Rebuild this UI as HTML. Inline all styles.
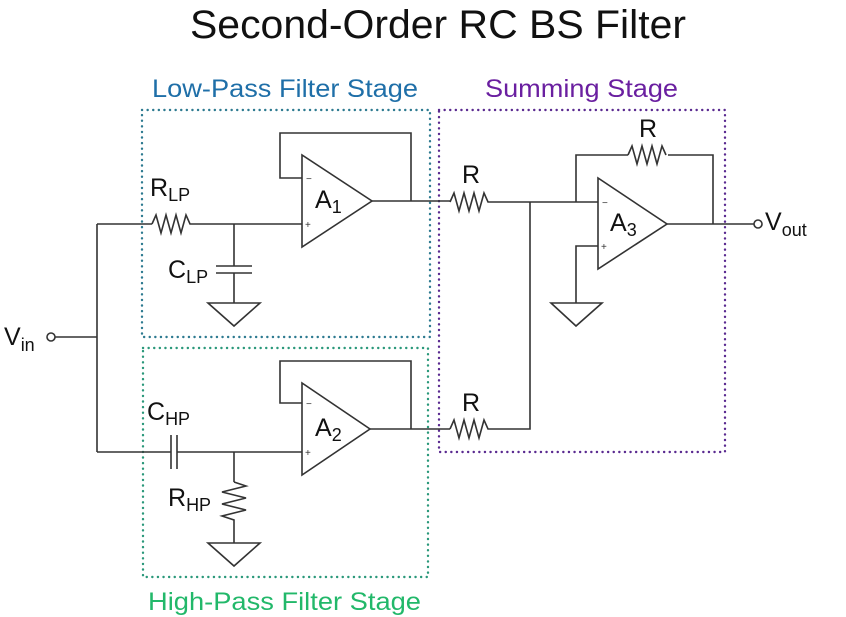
<!DOCTYPE html>
<html><head><style>body{margin:0;background:#fff}svg{display:block}</style></head><body>
<svg width="846" height="617" viewBox="0 0 846 617" xmlns="http://www.w3.org/2000/svg" font-family="Liberation Sans, Arial, sans-serif">
<text x="438" y="38" font-size="40" text-anchor="middle" textLength="496" lengthAdjust="spacingAndGlyphs" fill="#111">Second-Order RC BS Filter</text>
<text x="152" y="97" font-size="25" textLength="266" lengthAdjust="spacingAndGlyphs" fill="#1f6fa8">Low-Pass Filter Stage</text>
<text x="485" y="97" font-size="25" textLength="193" lengthAdjust="spacingAndGlyphs" fill="#6a1fa0">Summing Stage</text>
<text x="148" y="610" font-size="25" textLength="273" lengthAdjust="spacingAndGlyphs" fill="#22b86a">High-Pass Filter Stage</text>
<g fill="none" stroke-width="2.4" stroke-dasharray="0.1 5.5" stroke-linecap="round">
<rect x="142" y="110" width="288" height="227" stroke="#2d7a90"/>
<rect x="439" y="110" width="286" height="342" stroke="#5a2a90"/>
<rect x="143" y="348" width="285" height="229" stroke="#2a987a"/>
</g>
<g fill="none" stroke="#333" stroke-width="1.6">
<circle cx="51" cy="337" r="4"/>
<path d="M55 337H97M97 224V452M97 224H152M197 224H302"/>
<path d="M152 224l4-9 5 18 5-18 5 18 5-18 5 18 5-18 4 9H197"/>
<path d="M234 224V266M216 266H252M216 273H252M234 273V303M208 303H260L234 326Z"/>
<path d="M302 155V247L372 201Z"/>
<path d="M302 178H280V133H411V201M372 201H450"/>
<path d="M450 202l4-9 5 18 5-18 5 18 5-18 5 18 5-18 4 9H598"/>
<path d="M97 452H171M171 435V469M177 435V469M177 452H302M234 452V482"/>
<path d="M234 482l12 4-24 6 24 6-24 6 24 6-24 6 12 4V543M208 543H260L234 566Z"/>
<path d="M302 383V475L370 429Z"/>
<path d="M302 403H280V361H411V429M370 429H450"/>
<path d="M450 429l4-9 5 18 5-18 5 18 5-18 5 18 5-18 4 9H530V202"/>
<path d="M598 178V269L667 224Z"/>
<path d="M576 202V155H628M668 155H713V224M667 224H754"/>
<path d="M628 155l4-9 5 18 5-18 5 18 5-18 5 18 5-18 4 9"/>
<path d="M598 246H576V303M551 303H602L576 326Z"/>
<circle cx="758" cy="224" r="4"/>
</g>
<g fill="#333" font-size="10"><text x="306" y="182">−</text><text x="305" y="228">+</text>
<text x="306" y="407">−</text><text x="305" y="456">+</text>
<text x="602" y="206">−</text><text x="601" y="250">+</text></g>
<g fill="#111" font-size="25">
<text x="315" y="208">A<tspan font-size="18" dy="5">1</tspan></text>
<text x="315" y="436">A<tspan font-size="18" dy="5">2</tspan></text>
<text x="610" y="231">A<tspan font-size="18" dy="5">3</tspan></text>
<text x="150" y="196">R<tspan font-size="18" dy="5">LP</tspan></text>
<text x="168" y="278">C<tspan font-size="18" dy="5">LP</tspan></text>
<text x="147" y="420">C<tspan font-size="18" dy="5">HP</tspan></text>
<text x="168" y="506">R<tspan font-size="18" dy="5">HP</tspan></text>
<text x="462" y="183">R</text>
<text x="462" y="411">R</text>
<text x="639" y="137">R</text>
<text x="4" y="345">V<tspan font-size="18" dy="6">in</tspan></text>
<text x="765" y="230">V<tspan font-size="18" dy="6">out</tspan></text>
</g>
</svg>
</body></html>
